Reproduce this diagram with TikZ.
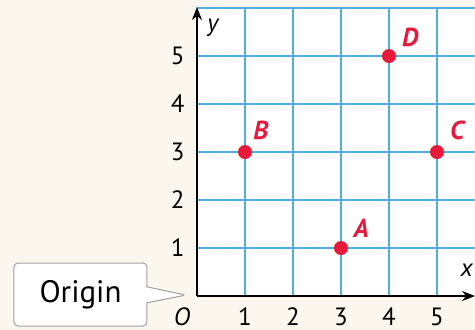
\documentclass[tikz,border=0pt]{standalone}
\usepackage{fontspec}
\setmainfont{PT Sans}
\usetikzlibrary{arrows.meta,shapes.callouts,positioning,calc}
\definecolor{papercream} {RGB}{251,247,239}
\definecolor{gridblue}   {RGB}{80,176,226}
\definecolor{pointred}   {RGB}{230,24,60}
\definecolor{calloutgray}{RGB}{160,160,160}
\begin{document}
\begin{tikzpicture}[
  x=48pt,y=48pt,
  every node/.style={font=\fontsize{25}{27}\selectfont,inner sep=0pt},
  gridline/.style={draw=gridblue,line width=1.1pt},
  axis/.style={-{Stealth[length=13pt,width=10pt]},line width=2pt,black},
  pt/.style={circle,fill=pointred,minimum size=14pt,inner sep=0pt},
  ptlabel/.style={text=pointred,font=\fontsize{26}{28}\selectfont\bfseries\itshape},
  varlabel/.style={font=\fontsize{25}{27}\selectfont\itshape},
  callbox/.style={rectangle callout,draw=calloutgray,line width=1pt,fill=white,
                  rounded corners=4pt,minimum width=133pt,minimum height=63pt,
                  callout pointer width=16pt,
                  font=\fontsize{31}{33}\selectfont},
]

%% ── Page and plotting area ───────────────────────────────────────────────
\useasboundingbox (-4.104,-0.708) rectangle (5.792,6.167);
\fill[papercream] (-4.104,-0.708) rectangle (5.792,6.167);
\fill[white] (0,0) rectangle (5.792,6);

%% ── Grid ─────────────────────────────────────────────────────────────────
\foreach \i in {1,...,5}
  \draw[gridline] (\i,0) -- (\i,6);
\foreach \j in {1,...,6}
  \draw[gridline] (0,\j) -- (5.792,\j);

%% ── Axes ─────────────────────────────────────────────────────────────────
\coordinate (orig) at (0,0);
\coordinate (xend) at (5.792,0);
\coordinate (yend) at (0,6.02);
\draw[axis] (orig) -- (xend);
\draw[axis] (orig) -- (yend);
\node[varlabel] (xlab) at (5.62,0.54) {x};
\node[varlabel] (ylab) at (0.33,5.58) {y};
\node[varlabel] (olab) at (-0.31,-0.43) {O};

%% ── Tick numbers ─────────────────────────────────────────────────────────
\foreach \k in {1,...,5}{
  \node (xt\k) at (\k,-0.43) {\k};
  \node (yt\k) at (-0.40,\k) {\k};
}

%% ── Points ───────────────────────────────────────────────────────────────
\node[pt] (A) at (3,1) {};
\node[pt] (B) at (1,3) {};
\node[pt] (C) at (5,3) {};
\node[pt] (D) at (4,5) {};
\node[ptlabel] (labA) at (3.42,1.42) {A};
\node[ptlabel] (labB) at (1.33,3.46) {B};
\node[ptlabel] (labC) at (5.42,3.46) {C};
\node[ptlabel] (labD) at (4.44,5.38) {D};

%% ── Origin callout ───────────────────────────────────────────────────────
\coordinate (tip) at (-0.23,0.02);
\node[callbox,callout absolute pointer={(tip)}] (origin) at (-2.427,0.031) {Origin};

\end{tikzpicture}
\end{document}
